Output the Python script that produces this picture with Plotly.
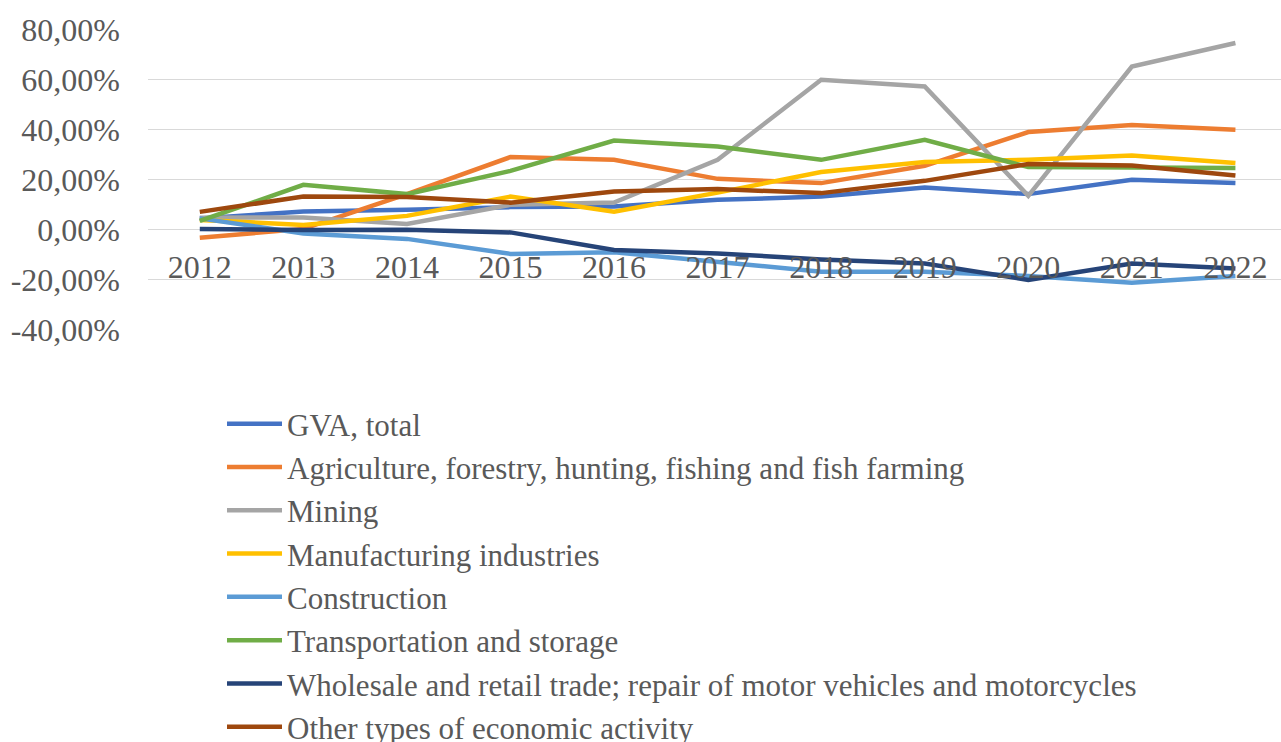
import plotly.graph_objects as go

# Growth rates by kind of economic activity, 2012-2022 (percent)
years = [2012, 2013, 2014, 2015, 2016, 2017, 2018, 2019, 2020, 2021, 2022]

gva_total = [4.5, 7.2, 7.9, 9.0, 9.2, 11.9, 13.2, 16.8, 14.2, 19.9, 18.6]
agriculture = [-3.2, 0.3, 14.2, 29.0, 27.9, 20.3, 18.6, 25.5, 39.0, 41.8, 39.9]
mining = [4.8, 4.9, 2.3, 9.9, 10.8, 27.9, 59.9, 57.2, 13.5, 65.2, 74.6]
manufacturing = [3.9, 1.9, 5.5, 13.2, 7.2, 14.8, 23.0, 27.0, 27.9, 29.6, 26.6]
construction = [4.5, -1.5, -3.7, -9.7, -9.0, -12.8, -16.8, -16.8, -18.5, -21.2, -18.5]
transportation = [3.5, 17.9, 14.2, 23.5, 35.6, 33.2, 27.9, 35.9, 25.0, 25.0, 24.6]
wholesale = [0.3, -0.1, 0.0, -1.1, -8.1, -9.5, -11.9, -13.5, -20.1, -13.5, -15.5]
other = [7.1, 13.2, 13.0, 10.8, 15.2, 16.2, 14.6, 19.5, 26.2, 25.6, 21.6]

y_ticks = [-40, -20, 0, 20, 40, 60, 80]
y_tick_labels = ["-40,00%", "-20,00%", "0,00%", "20,00%", "40,00%", "60,00%", "80,00%"]

series = [
    ("GVA, total", gva_total, "#4472C4"),
    ("Agriculture, forestry, hunting, fishing and fish farming", agriculture, "#ED7D31"),
    ("Mining", mining, "#A5A5A5"),
    ("Manufacturing industries", manufacturing, "#FFC000"),
    ("Construction", construction, "#5B9BD5"),
    ("Transportation and storage", transportation, "#70AD47"),
    ("Wholesale and retail trade; repair of motor vehicles and motorcycles", wholesale, "#264478"),
    ("Other types of economic activity", other, "#9E480E"),
]

W, H = 1281, 742
y_min, y_max = -40, 80
plot_top_px, plot_bottom_px = 29.5, 329.7
y_dom = [(H - plot_bottom_px) / H, (H - plot_top_px) / H]
zero_pos = y_dom[0] + (0 - y_min) / (y_max - y_min) * (y_dom[1] - y_dom[0])

fig = go.Figure()
for name, vals, color in series:
    fig.add_trace(go.Scatter(
        x=years, y=vals, name=name, mode="lines",
        line=dict(color=color, width=4.5, shape="linear"),
        hovertemplate="%{x}: %{y:.2f}%<extra>" + name + "</extra>",
    ))

font_family = "Liberation Serif, Times New Roman, serif"
label_color = "#595959"
fsize = 32
legend_fsize = 31

fig.update_layout(
    width=W, height=H,
    margin=dict(l=148, r=0, t=0, b=0, autoexpand=False),
    paper_bgcolor="white", plot_bgcolor="white",
    font=dict(family=font_family, size=fsize, color=label_color),
    xaxis=dict(
        range=[2011.5, 2022.44],
        tickvals=years, ticktext=[str(y) for y in years],
        showgrid=False, zeroline=False, showline=False,
        anchor="free", position=zero_pos,
        ticks="", ticklabelstandoff=15, automargin=False,
        tickfont=dict(family=font_family, size=fsize, color=label_color),
    ),
    yaxis=dict(
        domain=y_dom,
        range=[y_min, y_max],
        tickvals=y_ticks, ticktext=y_tick_labels,
        showgrid=True, gridcolor="#D9D9D9", gridwidth=1,
        zeroline=False, showline=False,
        ticks="", ticklabelstandoff=27, automargin=False,
        tickfont=dict(family=font_family, size=fsize, color=label_color),
    ),
    showlegend=True,
    legend=dict(
        orientation="v",
        x=(222 - 148) / (W - 148), xanchor="left",
        y=(H - 397) / H, yanchor="top",
        bgcolor="rgba(0,0,0,0)",
        font=dict(family=font_family, size=legend_fsize, color=label_color),
        itemwidth=55,
        tracegroupgap=0,
    ),
)

fig.write_html("out.html")
